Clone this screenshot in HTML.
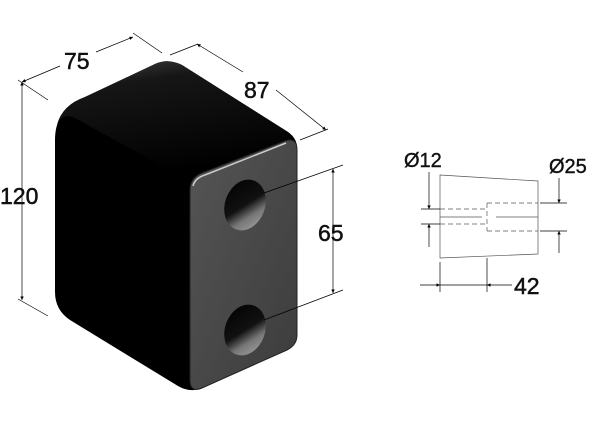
<!DOCTYPE html>
<html><head><style>html,body{margin:0;padding:0;background:#fff}svg{display:block}
.t{font-family:"Liberation Sans",Arial,sans-serif;font-size:23px;fill:#111;stroke:#111;stroke-width:0.5}
.s{font-family:"Liberation Sans",Arial,sans-serif;font-size:20px;fill:#111;stroke:#111;stroke-width:0.4}
</style></head><body>
<svg width="600" height="425" viewBox="0 0 600 425" xmlns="http://www.w3.org/2000/svg">
<defs>
<marker id="a" viewBox="0 0 10 10" refX="10" refY="5" markerWidth="7" markerHeight="5" orient="auto-start-reverse"><path d="M0,0L10,5L0,10z" fill="#000"/></marker>
<linearGradient id="top" x1="0" y1="0" x2="0.3" y2="1"><stop offset="0" stop-color="#444"/><stop offset="0.25" stop-color="#161616"/><stop offset="1" stop-color="#000"/></linearGradient>
<linearGradient id="face" x1="0" y1="0" x2="1" y2="1"><stop offset="0" stop-color="#555"/><stop offset="1" stop-color="#3c3c3c"/></linearGradient>
<linearGradient id="hole" x1="0" y1="0" x2="1" y2="1"><stop offset="0" stop-color="#000"/><stop offset="0.5" stop-color="#111"/><stop offset="0.7" stop-color="#777"/><stop offset="1" stop-color="#aaa"/></linearGradient>
</defs>
<!-- silhouette -->
<path d="M55,140 Q55,108 85,97 L155,64 Q168,58 182,65 L288,132 Q298,139 297,150 L297,335 Q297,345 287,350 L202,388 Q190,393 178,386 L70,320 Q55,310 55,292 Z" fill="#000"/>
<!-- top face shading -->
<path d="M57,125 Q62,105 85,97 L155,64 Q168,58 182,65 L288,132 Q296,138 285,143 L200,178 Q190,182 180,176 L75,118 Q62,112 57,125 Z" fill="url(#top)"/>
<!-- front face -->
<path d="M190,190 Q190,178 202,173 L285,141 Q297,137 297,150 L297,335 Q297,345 287,350 L202,388 Q190,393 190,380 Z" fill="url(#face)" stroke="#222" stroke-width="1"/>
<path d="M193,186 Q195,178 205,175 L286,143" fill="none" stroke="#ccc" stroke-width="1.5"/>
<ellipse cx="245" cy="205" rx="20" ry="26" fill="url(#hole)" transform="rotate(20 245 205)"/>
<ellipse cx="245" cy="330" rx="20" ry="26" fill="url(#hole)" transform="rotate(20 245 330)"/>
<!-- dims -->
<g stroke="#000" stroke-width="0.7" fill="none">
<line x1="18" y1="80" x2="48" y2="100"/>
<line x1="18" y1="299" x2="48" y2="316"/>
<line x1="22" y1="82" x2="22" y2="300" marker-start="url(#a)" marker-end="url(#a)"/>
<line x1="133" y1="33" x2="162" y2="53"/>
<line x1="22" y1="82" x2="60" y2="66" marker-start="url(#a)"/>
<line x1="96" y1="52" x2="133" y2="37" marker-end="url(#a)"/>
<line x1="170" y1="55" x2="198" y2="44"/>
<line x1="300" y1="140" x2="328" y2="129"/>
<line x1="197" y1="44" x2="243" y2="72" marker-start="url(#a)"/>
<line x1="276" y1="90" x2="326" y2="130" marker-end="url(#a)"/>
<line x1="264" y1="193" x2="343" y2="165"/>
<line x1="264" y1="320" x2="343" y2="290"/>
<line x1="333" y1="169" x2="333" y2="293" marker-start="url(#a)" marker-end="url(#a)"/>
</g>
<text class="t" x="64" y="69">75</text>
<text class="t" x="244" y="98">87</text>
<text class="t" x="0" y="204">120</text>
<text class="t" x="318" y="241">65</text>
<!-- right drawing -->
<g stroke="#555" stroke-width="0.7" fill="none">
<path d="M440,175 L538,181 L538,254 L440,258 Z"/>
<g stroke-dasharray="5,3">
<line x1="440" y1="209" x2="487" y2="209"/><line x1="440" y1="224" x2="487" y2="224"/>
<line x1="487" y1="203" x2="538" y2="203"/><line x1="487" y1="231" x2="538" y2="231"/>
<line x1="487" y1="203" x2="487" y2="231"/>
</g>
<line x1="440" y1="217" x2="482" y2="217"/><line x1="496" y1="217" x2="538" y2="217"/>
</g>
<g stroke="#000" stroke-width="0.7" fill="none">
<line x1="421" y1="209" x2="440" y2="209"/><line x1="421" y1="224" x2="440" y2="224"/>
<line x1="429" y1="172" x2="429" y2="209" marker-end="url(#a)"/>
<line x1="429" y1="224" x2="429" y2="247" marker-start="url(#a)"/>
<line x1="540" y1="203" x2="567" y2="203"/><line x1="540" y1="231" x2="567" y2="231"/>
<line x1="559" y1="178" x2="559" y2="203" marker-end="url(#a)"/>
<line x1="559" y1="231" x2="559" y2="253" marker-start="url(#a)"/>
<line x1="440" y1="262" x2="440" y2="292"/><line x1="487" y1="258" x2="487" y2="292"/>
<line x1="420" y1="285" x2="440" y2="285" marker-end="url(#a)"/>
<line x1="440" y1="285" x2="487" y2="285"/>
<line x1="512" y1="285" x2="487" y2="285" marker-end="url(#a)"/>
</g>
<text class="s" x="404" y="167">Ø12</text>
<text class="s" x="549" y="173">Ø25</text>
<text class="t" x="514" y="294">42</text>
</svg>
</body></html>
